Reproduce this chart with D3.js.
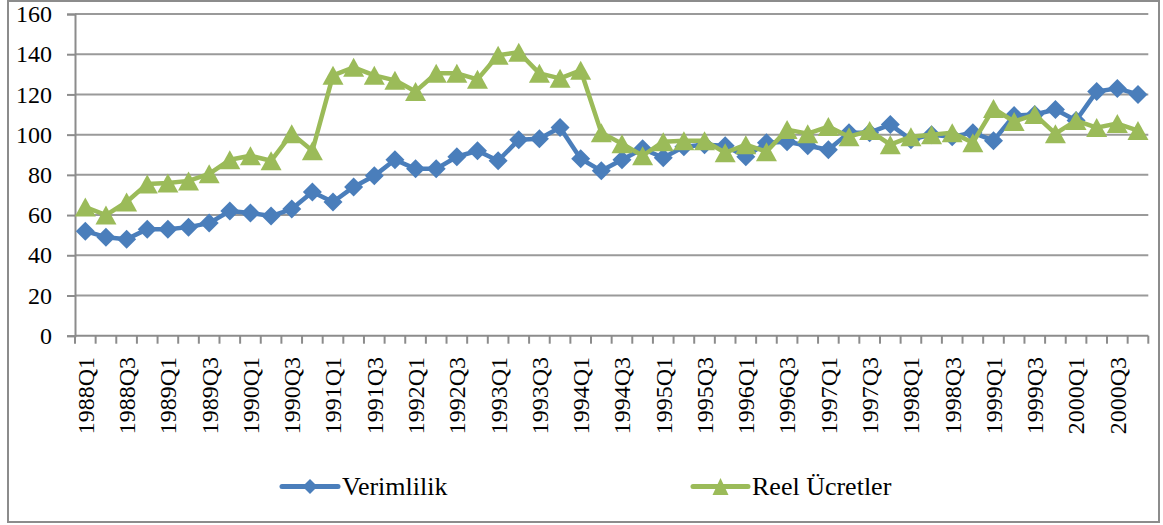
<!DOCTYPE html>
<html>
<head>
<meta charset="utf-8">
<script src="https://cdn.jsdelivr.net/npm/d3@7"></script>
<style>
  html, body { margin: 0; padding: 0; background: #fff; }
  svg { display: block; }
  svg text { font-family: "Liberation Serif", "Tinos", "Times New Roman", Times, "DejaVu Serif", serif !important; fill: #000; }
</style>
</head>
<body>
<svg id="chart" width="1163" height="525"></svg>
<script>
// Quarterly index series, 1988Q1 – 2000Q4
const quarters = [];
for (let y = 1988; y <= 2000; y++) for (let q = 1; q <= 4; q++) quarters.push(y + "Q" + q);

const verimlilik = [
  52, 49, 48, 53, 53, 54, 56, 62, 61, 59.5, 63, 71.5,
  66.5, 74, 79.5, 87.5, 83, 83, 89, 92, 87, 97.5, 98, 103.5,
  88, 82, 87.5, 93, 88.5, 94, 95, 94.5, 89, 96, 96.5, 94.5,
  92.5, 101, 101, 105, 97.5, 100, 99, 101, 97, 109.5, 110, 112.5,
  107, 121.5, 123, 120
];
const reelUcretler = [
  64, 60, 66.5, 75.5, 76, 77, 80.5, 87.5, 89.5, 87, 100.5, 92,
  129.5, 133.5, 129.5, 127, 121.5, 130.5, 130.5, 127.5, 139.5, 141, 130.5, 128,
  132, 101, 95.5, 89.5, 96.5, 97, 97, 91, 95, 91.5, 102.5, 100.5,
  104, 99, 102, 95, 99, 100, 101, 96, 113, 106.5, 110, 100.5,
  107, 103.5, 105.5, 102
];
const yTicks = [0, 20, 40, 60, 80, 100, 120, 140, 160];
const seriesNames = ["Verimlilik", "Reel Ücretler"];

const FONT = '"Liberation Serif", Tinos, "Times New Roman", Times, "DejaVu Serif", serif';

const svg = d3.select("#chart");
const plot = { left: 75, right: 1148.3, top: 14, bottom: 335.7 };

// outer frame
svg.append("rect")
  .attr("x", 8).attr("y", 1).attr("width", 1151).attr("height", 521)
  .attr("fill", "none").attr("stroke", "#8c8c8c").attr("stroke-width", 2);

const x = d3.scaleBand().domain(quarters).range([plot.left, plot.right]).padding(0);
const y = d3.scaleLinear().domain([0, 160]).range([plot.bottom, plot.top]);
const cx = d => x(d) + x.bandwidth() / 2;

// horizontal gridlines
svg.append("g").selectAll("line").data(yTicks.filter(t => t > 0)).join("line")
  .attr("x1", plot.left).attr("x2", plot.right)
  .attr("y1", d => y(d)).attr("y2", d => y(d))
  .attr("stroke", "#9a9a9a").attr("stroke-width", 2);

// y axis
const yAxis = svg.append("g").attr("transform", `translate(${plot.left},0)`)
  .call(d3.axisLeft(y).tickValues(yTicks).tickSize(8).tickPadding(15))
  .attr("font-family", FONT).attr("font-size", 24);
yAxis.select(".domain").attr("stroke", "#8c8c8c").attr("stroke-width", 2);
yAxis.selectAll(".tick line").attr("stroke", "#8c8c8c").attr("stroke-width", 2);
yAxis.selectAll(".tick text").style("font-family", FONT).attr("fill", "#000");

// x axis: tick marks on band boundaries, labels every second quarter
const xg = svg.append("g").attr("font-family", FONT);
xg.append("line")
  .attr("x1", plot.left).attr("x2", plot.right)
  .attr("y1", plot.bottom).attr("y2", plot.bottom)
  .attr("stroke", "#8c8c8c").attr("stroke-width", 2);
const bounds = quarters.map(q => x(q)).concat([plot.right]);
xg.selectAll("line.tk").data(bounds).join("line").attr("class", "tk")
  .attr("x1", d => d).attr("x2", d => d)
  .attr("y1", plot.bottom).attr("y2", plot.bottom + 8)
  .attr("stroke", "#8c8c8c").attr("stroke-width", 2);
xg.selectAll("text").data(quarters.filter((q, i) => i % 2 === 0)).join("text")
  .attr("transform", d => `translate(${cx(d)},357) rotate(-90)`)
  .attr("text-anchor", "end").attr("dy", "0.35em")
  .attr("font-size", 24)
  .style("font-family", FONT)
  .text(d => d);

// marker shapes
const diamond = (s) => `M0,${-s}L${s},0L0,${s}L${-s},0Z`;
const triangle = (w, h) => `M0,${-h / 2}L${w / 2},${h / 2}L${-w / 2},${h / 2}Z`;

const series = [
  { name: seriesNames[0], values: verimlilik, color: "#4a7ebb", marker: diamond(9.5) },
  { name: seriesNames[1], values: reelUcretler, color: "#9bbb59", marker: triangle(21, 19) }
];

const line = d3.line().x((d, i) => cx(quarters[i])).y(d => y(d));

series.forEach(s => {
  const g = svg.append("g");
  g.append("path").datum(s.values)
    .attr("d", line).attr("fill", "none")
    .attr("stroke", s.color).attr("stroke-width", 4.5)
    .attr("stroke-linejoin", "round").attr("stroke-linecap", "round");
  g.selectAll("path.m").data(s.values).join("path").attr("class", "m")
    .attr("d", s.marker)
    .attr("transform", (d, i) => `translate(${cx(quarters[i])},${y(d)})`)
    .attr("fill", s.color);
});

// legend
const legendItems = [
  { s: series[0], x0: 282, x1: 338, marker: diamond(7.5) },
  { s: series[1], x0: 693, x1: 748, marker: triangle(16, 17) }
];
legendItems.forEach(it => {
  const g = svg.append("g");
  const ly = 486.5;
  g.append("line").attr("x1", it.x0).attr("x2", it.x1).attr("y1", ly).attr("y2", ly)
    .attr("stroke", it.s.color).attr("stroke-width", 5).attr("stroke-linecap", "round");
  g.append("path").attr("d", it.marker)
    .attr("transform", `translate(${(it.x0 + it.x1) / 2},${ly})`)
    .attr("fill", it.s.color);
  g.append("text").attr("x", it.x1 + 4).attr("y", 495)
    .attr("font-size", 26).style("font-family", FONT).text(it.s.name);
});
</script>
</body>
</html>
